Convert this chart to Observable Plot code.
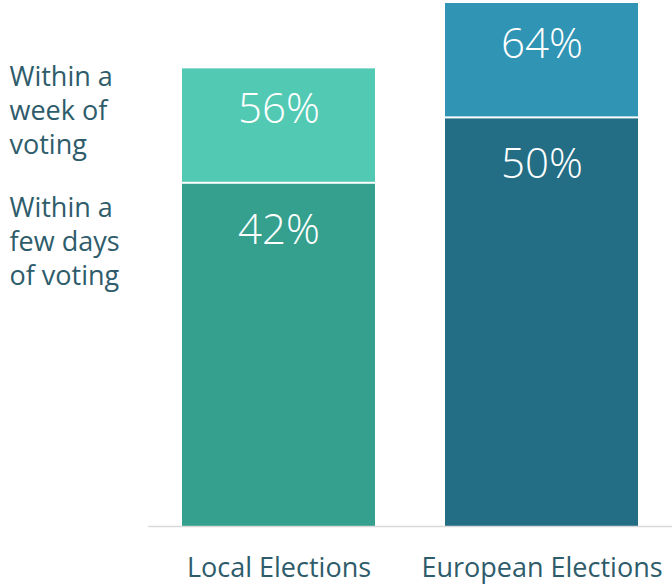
<!DOCTYPE html>
<html>
<head>
<meta charset="utf-8">
<script src="https://cdn.jsdelivr.net/npm/d3@7"></script>
<script src="https://cdn.jsdelivr.net/npm/@observablehq/plot@0.6"></script>
<style>
  html, body { margin: 0; padding: 0; background: #fff; }
  #chart svg { display: block; }
</style>
</head>
<body>
<div id="chart"></div>
<script>
const categories = ["Local Elections", "European Elections"];
const fewDays = [42, 50];          // "Within a few days of voting"
const withinWeek = [56, 64];       // "Within a week of voting"
const seriesLabels = ["Within a\nweek of\nvoting", "Within a\nfew days\nof voting"];
const lowColors = ["#35A08E", "#236E85"];
const highColors = ["#52C9B3", "#3094B4"];

const data = categories.map((c, i) => ({
  cat: c, low: fewDays[i], high: withinWeek[i], lowColor: lowColors[i], highColor: highColors[i]
}));

const textColor = "#2E5C6B";
const font = "'Open Sans', sans-serif";

const chart = Plot.plot({
  width: 672,
  height: 584,
  marginTop: 3,
  marginBottom: 58,
  marginLeft: 148,
  marginRight: 0,
  style: { fontFamily: font, background: "#fff" },
  x: { domain: categories, paddingInner: 0.266, paddingOuter: 0.129, label: null },
  y: { domain: [0, 64], axis: null },
  color: { type: "identity" },
  marks: [
    Plot.barY(data, { x: "cat", y1: 0, y2: "low", fill: "lowColor", insetTop: 1 }),
    Plot.barY(data, { x: "cat", y1: "low", y2: "high", fill: "highColor", insetBottom: 1 }),
    Plot.ruleY([0], { stroke: "#D9D9D9", strokeWidth: 1.5 }),
    Plot.text(data, { x: "cat", y: "high", text: d => d.high + "%", dy: 41, fill: "white",
      fontSize: 42, fontWeight: 300, lineAnchor: "middle" }),
    Plot.text(data, { x: "cat", y: "low", text: d => d.low + "%", dy: 47, fill: "white",
      fontSize: 42, fontWeight: 300, lineAnchor: "middle" }),
    Plot.text([seriesLabels[0]], { text: d => d, frameAnchor: "top-left", dx: -139, dy: 58,
      textAnchor: "start", lineAnchor: "top", fill: textColor, fontSize: 27, lineHeight: 1.26 }),
    Plot.text([seriesLabels[1]], { text: d => d, frameAnchor: "top-left", dx: -139, dy: 189,
      textAnchor: "start", lineAnchor: "top", fill: textColor, fontSize: 27, lineHeight: 1.26 }),
    Plot.axisX({ tickSize: 0, tickPadding: 31, fontSize: 27, fill: textColor, label: null })
  ]
});

document.getElementById("chart").appendChild(chart);
</script>
</body>
</html>
